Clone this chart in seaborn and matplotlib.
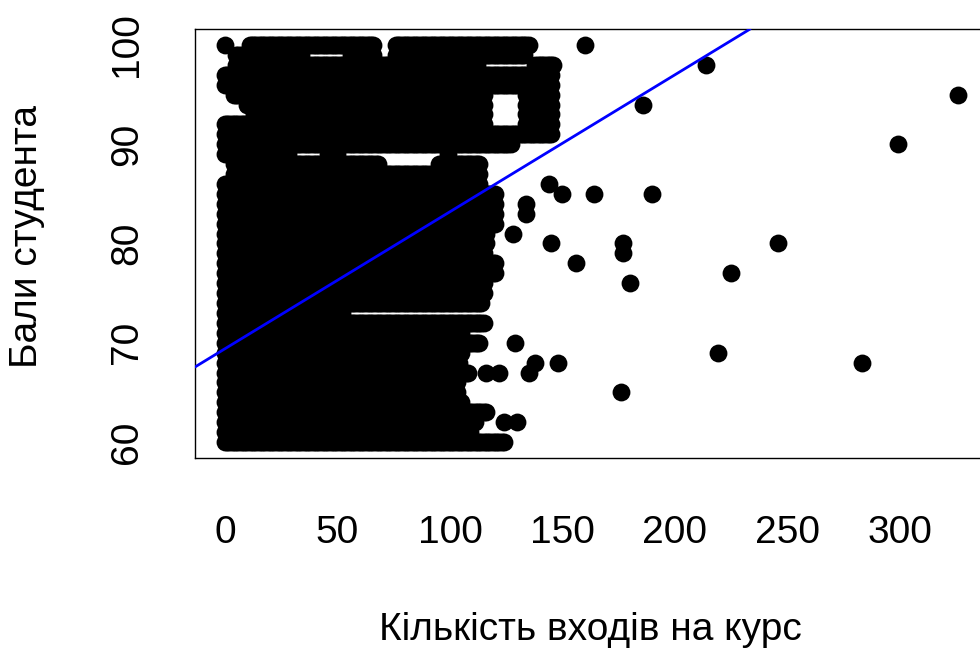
import numpy as np
import pandas as pd
import matplotlib
matplotlib.use("Agg")
import matplotlib.pyplot as plt
import seaborn as sns

# Dense block: for each score, runs of login counts that are all present (from..to)
run_score = [100, 100, 100,
             99, 99, 99,
             98, 98,
             97, 96,
             95, 95, 94, 94, 93, 93, 92, 92,
             91, 90,
             89, 89, 89, 89,
             88, 88, 87, 86, 85, 84, 83, 82, 81, 80,
             79, 78, 77, 76, 75, 74, 73, 72, 71, 70,
             69, 68, 67, 66, 65, 64, 63, 62, 61, 60]
run_from = [0, 11, 76,
            5, 56, 76,
            5, 138,
            0, 0,
            4, 134, 10, 134, 13, 134, 0, 134,
            0, 0,
            0, 24, 46, 99,
            4, 95, 4, 0, 0, 0, 0, 0, 0, 0,
            0, 0, 0, 0, 0, 0, 0, 0, 0, 0,
            0, 0, 0, 0, 0, 0, 0, 0, 0, 0]
run_to = [0, 66, 135,
          34, 66, 133,
          112, 146,
          145, 145,
          115, 145, 115, 145, 115, 145, 115, 145,
          145, 127,
          18, 28, 50, 99,
          68, 113, 113, 113, 120, 120, 120, 120, 116, 116,
          115, 120, 120, 115, 115, 114, 52, 115, 105, 113,
          105, 104, 108, 103, 103, 105, 116, 111, 109, 124]

# Single points outside the dense block
single_x = [160, 214, 326, 186, 299, 144, 150, 164, 190, 134, 134, 128,
            145, 177, 246, 177, 156, 225, 180, 129, 219, 138, 148, 283,
            116, 122, 135, 176, 124, 130]
single_y = [100, 98, 95, 94, 90, 86, 85, 85, 85, 84, 83, 81,
            80, 80, 80, 79, 78, 77, 76, 70, 69, 68, 68, 68,
            67, 67, 67, 65, 62, 62]

# Linear fit shown in the chart
fit_intercept = 69.4
fit_slope = 0.138

x_ticks = [0, 50, 100, 150, 200, 250, 300]
y_ticks = [60, 70, 80, 90, 100]

# Build points
logins = []
scores = []
for s, a, b in zip(run_score, run_from, run_to):
    for v in range(a, b + 1):
        logins.append(v)
        scores.append(s)
logins += single_x
scores += single_y
df = pd.DataFrame({"logins": logins, "score": scores})

sns.set_style("white")
plt.rcParams["font.family"] = ["Liberation Sans", "DejaVu Sans"]
plt.rcParams["text.color"] = "black"
plt.rcParams["axes.labelcolor"] = "black"

fig = plt.figure(figsize=(9.8, 6.48), dpi=100)
ax = fig.add_axes([195 / 980, 190 / 648, 790 / 980, 429 / 648])

sns.scatterplot(data=df, x="logins", y="score", color="black", s=165,
                linewidth=0, ax=ax, zorder=2, legend=False)
ax.axline((0, fit_intercept), slope=fit_slope, color=(0, 0, 1), lw=2, zorder=3)

ax.set_xlim(-13.33, 337.8)
ax.set_ylim(58.39, 101.61)
ax.set_xticks(x_ticks)
ax.set_yticks(y_ticks)
ax.tick_params(axis="both", direction="out", length=18, width=1, color="black",
               labelsize=28, labelcolor="black")
ax.tick_params(axis="x", pad=23)
ax.tick_params(axis="y", pad=18)
for lab in ax.get_yticklabels():
    lab.set_rotation(90)
    lab.set_va("center")

for sp in ax.spines.values():
    sp.set_color("black")
    sp.set_linewidth(1)
    sp.set_visible(True)

ax.set_xlabel("Кількість входів на курс", fontsize=28, va="center", color="black")
ax.set_ylabel("Бали студента", fontsize=28, va="center", color="black")
ax.xaxis.set_label_coords(0.5, (458 - 630) / 429)
ax.yaxis.set_label_coords((27 - 195) / 790, (458 - 237) / 429)

fig.savefig("out.png", dpi=100)
